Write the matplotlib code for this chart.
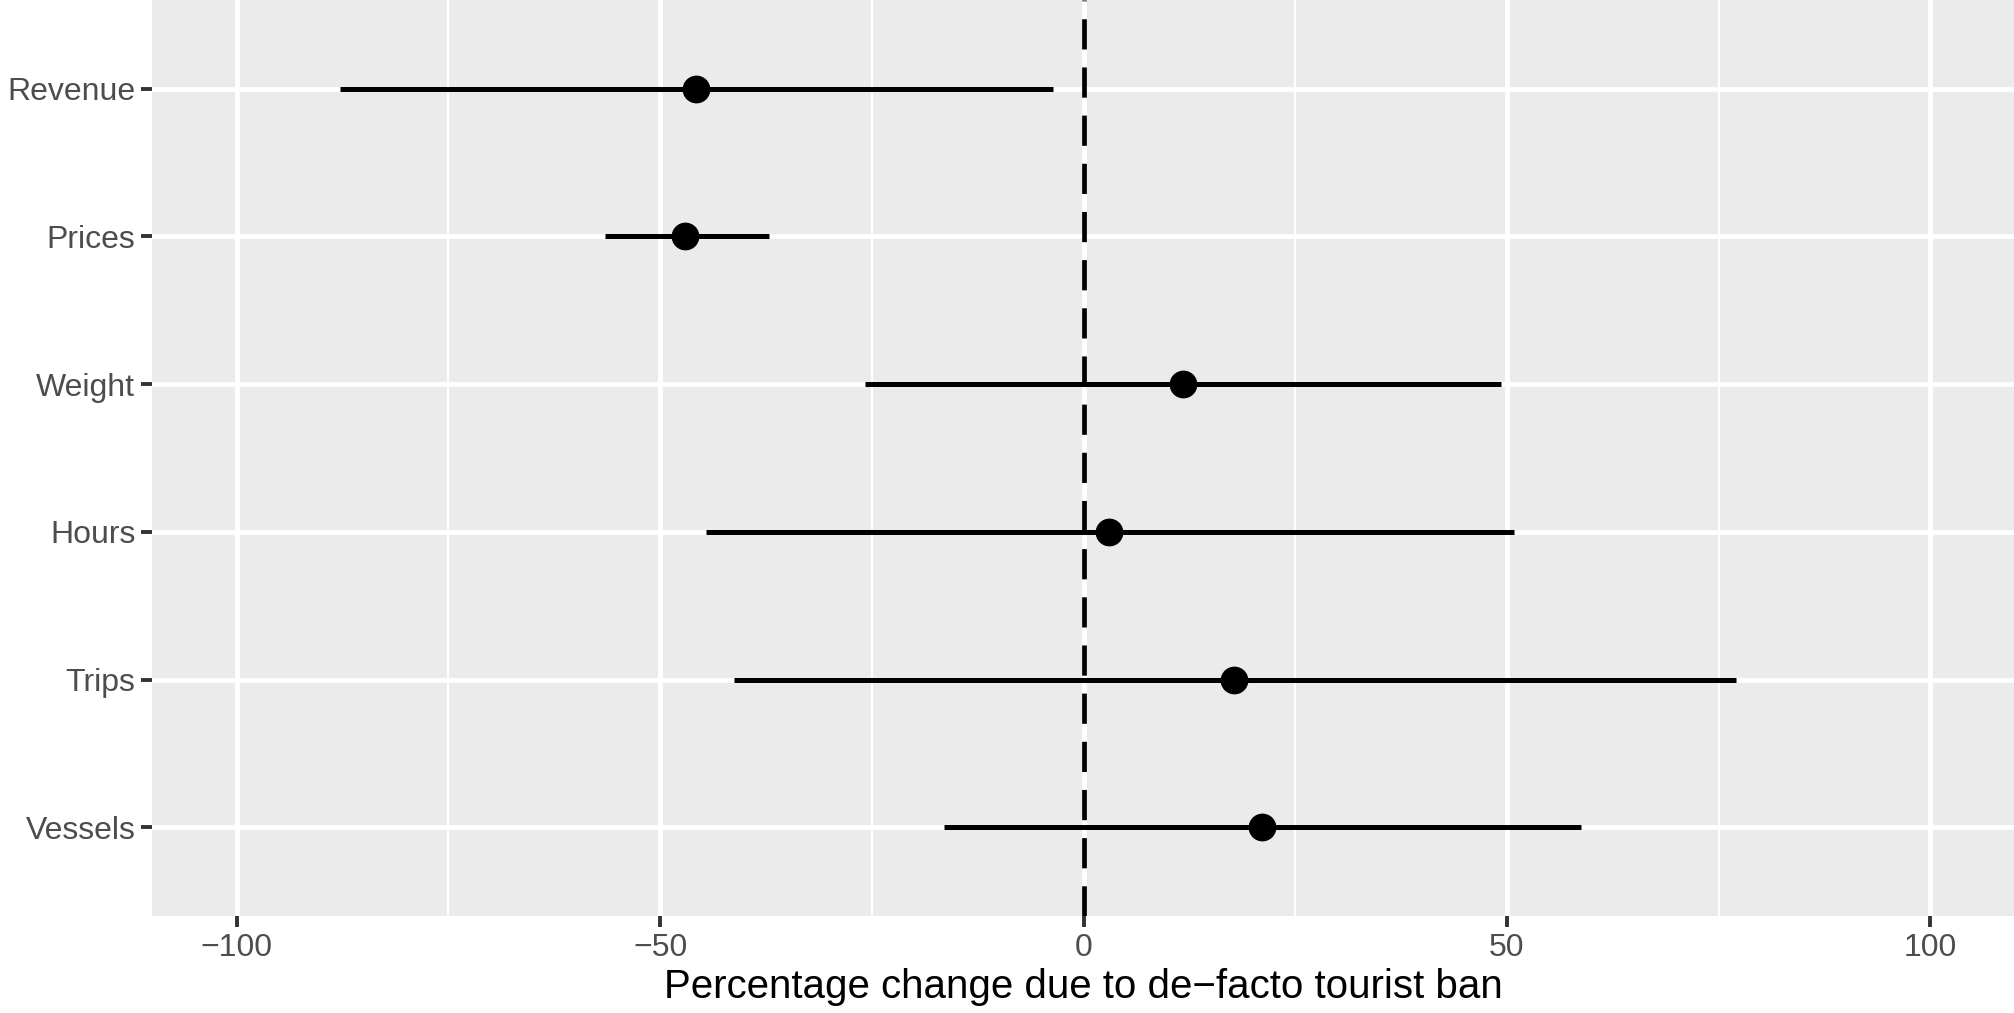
import matplotlib
matplotlib.use("Agg")
import matplotlib.pyplot as plt
import numpy as np

plt.rcParams["font.family"] = ["Liberation Sans", "DejaVu Sans"]

# --- estimates (percentage change) ---
outcomes = ["Revenue", "Prices", "Weight", "Hours", "Trips", "Vessels"]
estimate = [-45.8, -47.0, 11.7, 3.0, 17.8, 21.1]
ci_low = [-87.8, -56.5, -25.8, -44.6, -41.3, -16.5]
ci_high = [-3.6, -37.1, 49.3, 50.8, 77.0, 58.7]

PANEL = "#EBEBEB"
TICKTXT = "#4D4D4D"
TICKCOL = "#333333"

W, H = 2015, 1013
fig = plt.figure(figsize=(W / 100, H / 100), dpi=100)
ax = fig.add_axes([152 / W, (H - 916) / H, (W - 152) / W, 916 / H])
ax.set_facecolor(PANEL)

# first category on top, like the ggplot output
ypos = np.arange(len(outcomes))[::-1] + 1

ax.hlines(ypos, ci_low, ci_high, color="black", lw=3.6, zorder=3)
ax.scatter(estimate, ypos, s=400, color="black", zorder=4, linewidths=0)
ax.axvline(0, color="black", lw=3.4, ls=(0, (6.4, 3.8)), zorder=5)

ax.set_xlim(-110, 110)
ax.set_ylim(0.4, 6.6)
ax.set_xticks([-100, -50, 0, 50, 100])
ax.set_xticks([-75, -25, 25, 75], minor=True)
ax.set_yticks(ypos)
ax.set_yticklabels(outcomes)

ax.grid(which="major", color="white", lw=3.4, zorder=0)
ax.grid(which="minor", axis="x", color="white", lw=1.5, zorder=0)
ax.set_axisbelow(True)
for s in ax.spines.values():
    s.set_visible(False)

ax.tick_params(which="major", length=8, width=2.8, color=TICKCOL,
               labelcolor=TICKTXT, labelsize=23, pad=4)
ax.tick_params(which="minor", length=0)

ax.set_xlabel("Percentage change due to de\u2212facto tourist ban",
              fontsize=29, color="black", labelpad=4)

fig.savefig("out.png", dpi=100, facecolor="white")
